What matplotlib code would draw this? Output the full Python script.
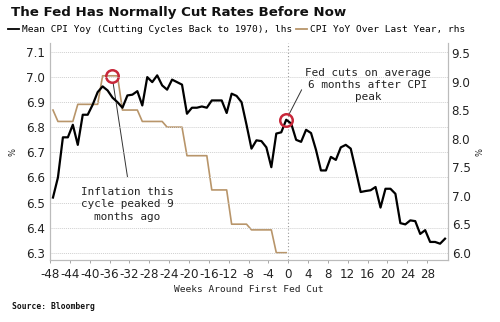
import numpy as np
import matplotlib
matplotlib.use("Agg")
import matplotlib.pyplot as plt
from matplotlib.lines import Line2D

plt.rcParams['axes.unicode_minus'] = False

# ---- data ----
mean_weeks = np.arange(-47, 33) - 0.4
mean_cpi = [6.52, 6.60, 6.76, 6.76, 6.81, 6.73, 6.85, 6.85, 6.89, 6.94,
            6.963, 6.947, 6.918, 6.90, 6.878, 6.927, 6.93, 6.944, 6.887, 7.0,
            6.98, 7.007, 6.967, 6.95, 6.99, 6.98, 6.97, 6.854, 6.878, 6.878,
            6.883, 6.878, 6.907, 6.907, 6.907, 6.857, 6.934, 6.925, 6.90, 6.81,
            6.715, 6.748, 6.745, 6.72, 6.641, 6.775, 6.78,
            6.83, 6.815, 6.75, 6.742, 6.79, 6.777, 6.71, 6.628, 6.628, 6.682,
            6.67, 6.72, 6.73, 6.715, 6.63, 6.542, 6.546, 6.549, 6.562, 6.48,
            6.555, 6.555, 6.535, 6.418, 6.413, 6.429, 6.426, 6.375, 6.39, 6.343,
            6.343, 6.336, 6.356]

cpi_weeks = np.arange(-47, 1) - 0.4
cpi_yoy = ([8.5] * 1 + [8.3] * 4 + [8.6] * 5 + [9.1] * 4 + [8.5] * 4 +
           [8.3] * 5 + [8.2] * 4 + [7.7] * 5 + [7.1] * 4 + [6.5] * 4 +
           [6.4] * 5 + [6.0] * 3)

x_ticks = list(range(-48, 29, 4))
left_ticks = [6.3, 6.4, 6.5, 6.6, 6.7, 6.8, 6.9, 7.0, 7.1]
right_ticks = [6.0, 6.5, 7.0, 7.5, 8.0, 8.5, 9.0, 9.5]

title = "The Fed Has Normally Cut Rates Before Now"
label_mean = "Mean CPI Yoy (Cutting Cycles Back to 1970), lhs"
label_cpi = "CPI YoY Over Last Year, rhs"
note_peak = "Inflation this\ncycle peaked 9\nmonths ago"
note_cut = "Fed cuts on average\n6 months after CPI\npeak"

BLACK = "#000000"
TAN = "#b8956a"
RED = "#c8283a"
GRID = "#d0d0d0"
TXT = "#222222"
MONO = "DejaVu Sans Mono"

fig = plt.figure(figsize=(5.0, 3.22), dpi=100)
ax = fig.add_axes([0.100, 0.1925, 0.796, 0.674])
ax2 = ax.twinx()

ax.plot(mean_weeks, mean_cpi, color=BLACK, lw=1.6, zorder=3)
ax2.plot(cpi_weeks, cpi_yoy, color=TAN, lw=1.2, zorder=2)

ax.set_xlim(-48, 32.2)
ax.set_ylim(6.271, 7.136)
ax2.set_ylim(5.872, 9.675)

ax.set_xticks(x_ticks)
ax.set_xticklabels([str(t) for t in x_ticks])
ax.set_yticks(left_ticks)
ax.set_yticklabels([f"{v:.1f}" for v in left_ticks])
ax2.set_yticks(right_ticks)
ax2.set_yticklabels([f"{v:.1f}" for v in right_ticks])

for a in (ax, ax2):
    for s in a.spines.values():
        s.set_color("#bbbbbb")
        s.set_linewidth(0.8)
    a.spines['top'].set_visible(False)
ax.tick_params(axis='y', length=0, pad=3.6, labelsize=8.6, labelcolor=TXT)
ax2.tick_params(axis='y', length=0, pad=2.7, labelsize=8.6, labelcolor=TXT)
ax.tick_params(axis='x', length=2.5, width=0.6, color="#999999", pad=3.5,
               labelsize=8.6, labelcolor=TXT)

ax.grid(axis='y', color=GRID, lw=0.7, ls=(0, (1, 1)))
ax.axvline(0, color="#999999", lw=0.8, ls=(0, (1, 2)), zorder=1)
ax.set_zorder(ax2.get_zorder() + 1)
ax.patch.set_visible(False)

ax.set_xlabel("Weeks Around First Fed Cut", family=MONO, fontsize=6.8,
              color=TXT, labelpad=2.5)
ax.set_ylabel("%", fontsize=6, color=TXT, labelpad=6)
ax2.set_ylabel("%", fontsize=6, color=TXT, labelpad=7, rotation=270)

# circles at the two peaks
peak_val = max(cpi_yoy)
peak_weeks = [w for w, v in zip(cpi_weeks, cpi_yoy) if v == peak_val]
peak_x = float(np.mean(peak_weeks)) + 0.4
ax2.plot([peak_x], [peak_val], marker='o', ms=9, mfc='none', mec=RED, mew=1.8, zorder=5)
cut_idx = int(np.argmin(np.abs(mean_weeks - 0)))
cut_x, cut_y = mean_weeks[cut_idx], mean_cpi[cut_idx]
ax.plot([cut_x], [cut_y], marker='o', ms=9, mfc='none', mec=RED, mew=1.8, zorder=5)

# annotation lines
ax2.annotate("", xy=(peak_x, peak_val), xytext=(11.1, -72.7), textcoords='offset points',
             arrowprops=dict(arrowstyle='-', color="#333333", lw=0.7, shrinkA=0, shrinkB=5))
ax.annotate("", xy=(cut_x, cut_y), xytext=(11.1, 21.6), textcoords='offset points',
            arrowprops=dict(arrowstyle='-', color="#333333", lw=0.7, shrinkA=0, shrinkB=5))

ax.text(0.195, 0.336, note_peak, transform=ax.transAxes, ha='center', va='top',
        multialignment='center', family=MONO, fontsize=7.9, color=TXT, linespacing=1.3)
ax.text(0.799, 0.887, note_cut, transform=ax.transAxes, ha='center', va='top',
        multialignment='center', family=MONO, fontsize=7.9, color=TXT, linespacing=1.25)

# title, legend, source
fig.text(0.022, 0.962, title, ha='left', va='center', fontsize=9.6,
         fontweight='bold', color="#111111")
handles = [Line2D([], [], color=BLACK, lw=1.3), Line2D([], [], color=TAN, lw=1.3)]
fig.legend(handles, [label_mean, label_cpi], loc='center left',
           bbox_to_anchor=(0.015, 0.908), ncol=2, frameon=False,
           handlelength=1.2, handletextpad=0.3, columnspacing=0.4,
           borderaxespad=0, borderpad=0,
           prop={'family': MONO, 'size': 6.8})
fig.text(0.025, 0.047, "Source: Bloomberg", ha='left', va='center',
         family=MONO, fontsize=5.8, fontweight='bold', color="#111111")

fig.savefig("out.png", dpi=100)
